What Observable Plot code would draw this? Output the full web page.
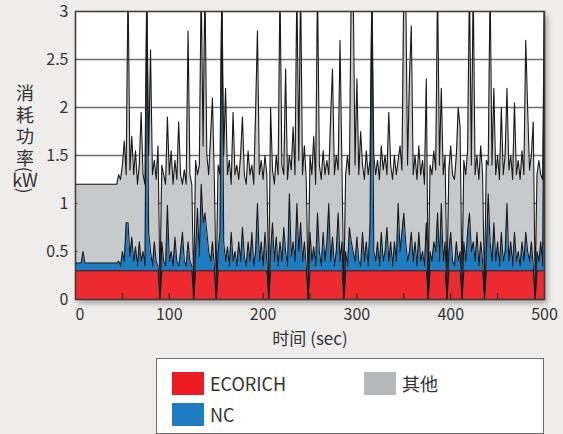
<!DOCTYPE html>
<html>
<head>
<meta charset="utf-8">
<script src="https://cdn.jsdelivr.net/npm/d3@7"></script>
<script src="https://cdn.jsdelivr.net/npm/@observablehq/plot@0.6"></script>
<style>
  html, body { margin: 0; padding: 0; background: #efeeec; }
  body { position: relative; width: 563px; height: 434px; overflow: hidden;
         font-family: "Noto Sans CJK SC", "Noto Sans", sans-serif; color: #333; }
  #panel { position: absolute; left: 75px; top: 11px; width: 469px; height: 288px;
           background: #fff; box-shadow: 3px 4px 6px rgba(0,0,0,0.35); }
  #chart { position: absolute; left: 0; top: 0; }
  #ylabel { position: absolute; left: 0; top: 0; width: 50px; height: 220px;
            font-size: 18px; color: #333; }
  #ylabel .chars { position: absolute; left: 0; top: 82px; width: 50px; text-align: center; }
  #ylabel .chars div { line-height: 21.5px; }
  #ylabel .paren { position: absolute; left: 16.5px; width: 17px; height: 17px;
                   line-height: 17px; font-size: 17px; text-align: center; transform: rotate(90deg); }
  #ylabel .unit { position: absolute; left: 0; width: 50px; height: 18px; line-height: 18px;
                  text-align: center; }
  #legend { position: absolute; left: 156px; top: 358px; width: 386px; height: 74px;
            background: #fff; border: 1px solid #6e6e6e; }
  .item { position: absolute; display: flex; align-items: center; font-size: 18px; color: #333; }
  .sw { width: 32px; height: 23px; margin-right: 6px; }
</style>
</head>
<body>
<div id="panel"></div>
<div id="chart"></div>
<div id="ylabel">
  <div class="chars"><div>消</div><div>耗</div><div>功</div><div>率</div></div>
  <div class="paren" style="top:161px">(</div>
  <div class="unit" style="top:170px">kW</div>
  <div class="paren" style="top:182px">)</div>
</div>
<div id="legend"></div>
<script>
// Power draw sampled every 2 seconds, 0–500 sec (kW per component)
const times = d3.range(0, 501, 2);
const seriesNames = ["ECORICH", "NC", "其他"];
const seriesColors = ["#ec2a30", "#1d7cc2", "#c8c9cb"];
const legendColors = ["#ed1c24", "#1d7cc2", "#b7b8ba"];
const yTicks = [0, 0.5, 1, 1.5, 2, 2.5, 3];
const xTicks = [0, 100, 200, 300, 400, 500];
const xMinorTicks = [50, 100, 150, 200, 250, 300, 350, 400, 450];

const ecorich = [
  .3,.3,.3,.3,.3,.3,.3,.3,.3,.3,
  .3,.3,.3,.3,.3,.3,.3,.3,.3,.3,
  .3,.3,.3,.3,.3,.3,.3,.3,.3,.3,
  .3,.3,.3,.3,.3,.3,.3,.3,.3,.3,
  .3,.3,.3,.3,.3,0,.3,.3,.3,.3,
  .3,.3,.3,.3,.3,.3,.3,.3,.3,.3,
  .3,.3,.3,0,.3,.3,.3,.3,.3,.3,
  .3,.3,.3,.3,.3,0,.3,.3,.3,.3,
  .3,.3,.3,.3,.3,.3,.3,.3,.3,.3,
  .3,.3,.3,.3,.3,.3,.3,.3,.3,.3,
  .3,.3,.3,0,.3,.3,.3,.3,.3,.3,
  .3,.3,.3,.3,.3,.3,.3,.3,.3,.3,
  .3,.3,.3,.3,0,.3,.3,.3,.3,.3,
  .3,.3,.3,.3,.3,.3,.3,.3,.3,.3,
  .3,.3,.3,0,.3,.3,.3,.3,.3,.3,
  .3,.3,.3,.3,.3,.3,.3,.3,.3,.3,
  .3,.3,.3,.3,.3,.3,.3,.3,.3,.3,
  .3,.3,.3,.3,.3,.3,.3,.3,.3,.3,
  .3,.3,.3,.3,.3,.3,.3,.3,0,.3,
  .3,.3,.3,.3,.3,.3,.3,.3,0,.3,
  .3,.3,.3,.3,.3,.3,0,.3,.3,.3,
  .3,.3,.3,.3,.3,.3,.3,.3,0,.3,
  .3,.3,.3,.3,.3,.3,.3,.3,.3,.3,
  .3,.3,.3,.3,.3,.3,.3,.3,.3,.3,
  .3,.3,.3,.3,.3,0,.3,.3,.3,.3,
  .3
];

const nc = [
  .08,.08,.08,.08,.2,.08,.08,.08,.08,.08,
  .08,.08,.08,.08,.08,.08,.08,.08,.08,.08,
  .08,.08,.08,.1,.05,.2,.1,.5,.5,.15,
  .35,.1,.25,.05,.3,.1,.2,.05,2.9,.4,
  .2,.05,.3,.1,.05,0,.3,.1,.05,.68,
  .1,.2,.05,.35,.1,.05,.2,.4,.1,.05,
  .3,.1,.05,0,.2,.65,.15,.9,.5,.6,
  .4,.2,.1,.3,.05,0,.2,.4,3.0,.3,
  .1,.25,.05,.4,.1,.2,.05,.3,.1,.45,
  .15,.05,.3,.1,.4,.05,.2,.7,.1,.3,
  .05,.4,.1,0,.2,.5,.1,.35,.05,.3,
  .1,.45,.2,.05,.8,.15,.3,.1,.7,.2,
  .5,.1,.3,.05,0,.4,.1,.25,.05,.6,
  .2,.05,.4,.1,.3,.7,.1,.35,.05,.2,
  .6,.1,.3,0,.2,.05,.45,.3,.2,.1,
  .35,.1,.05,.4,.1,.3,.05,.5,3.0,.2,
  .1,.3,.05,.4,.1,.2,.45,.1,.3,.05,
  .3,.1,.7,.2,.4,.6,.3,.1,.2,.4,
  .1,.3,.05,.4,.1,.2,.05,.5,0,.2,
  .1,.3,.2,.6,.1,.7,.1,.3,0,.2,
  .4,.1,.05,.3,.1,.2,0,.3,.1,.4,
  .6,.2,.3,.1,.4,.05,.3,.1,0,.2,
  .8,.3,.1,.5,.1,.3,.05,.4,.1,.2,
  .7,.1,.3,.05,.4,.1,.2,.05,.3,.1,
  .4,.2,.1,.3,.05,0,.2,.1,.3,.05,
  3.0
];

const other = [
  .82,.82,.82,.82,.7,.82,.82,.82,.82,.82,
  .82,.82,.82,.82,.82,.82,.82,.82,.82,.82,
  .82,.82,.82,.9,.9,.9,1.25,.5,2.5,.9,
  1.05,.9,1.0,.85,.8,1.55,.8,.85,.1,.8,
  2.1,.95,.85,.85,1.25,.12,.8,.9,.85,.92,
  .9,1.05,.85,.8,.85,1.5,.8,.5,.95,.85,
  2.2,.9,.85,.12,.95,.35,.95,2.1,.8,2.4,
  .8,.8,1.3,1.5,.9,.12,.9,.6,0,.9,
  1.8,.75,1.1,.5,1.55,.8,1.05,.65,1.1,1.15,
  .85,.85,.95,.9,.7,.85,1.45,1.8,.9,.85,
  .9,.8,.9,.12,1.5,.55,.8,.85,.95,2.7,
  1.0,.55,1.9,.9,.4,.9,1.2,.9,2.3,.95,
  2.5,.9,1.0,.9,.12,.8,.9,1.15,.85,2.4,
  .9,.9,.85,.9,.85,.3,1.5,1.75,.95,1.0,
  .45,2.3,.8,.12,.8,1.15,.55,2.7,2.8,1.0,
  1.65,.9,1.4,.7,.85,.95,.95,.65,0,1.0,
  .9,.85,.9,.9,.95,1.0,.55,1.55,.8,.9,
  .9,.9,.45,1.1,.65,2.4,2.7,1.0,1.8,2.15,
  .9,.9,.9,.9,.9,.95,.85,1.5,.12,.9,
  .9,.95,.85,2.4,1.0,1.2,.9,.9,.12,.85,
  .9,.9,.9,.9,1.6,1.3,.12,.85,.9,.85,
  2.4,.9,2.7,.9,.8,.9,1.0,.9,.12,.95,
  .3,2.7,1.0,1.4,.9,.9,.9,1.3,.9,1.0,
  1.2,.95,.9,.9,1.35,.9,.95,.9,.95,.9,
  2.0,1.5,.95,.9,1.5,.12,.8,1.05,.7,.9,
  0
];

// Long-format table, bottom layer first so the stack order is ECORICH, NC, 其他
const values = [ecorich, nc, other];
const data = seriesNames.flatMap((name, k) =>
  values[k].map((v, i) => ({time: times[i], series: name, value: v})));

const chart = Plot.plot({
  width: 563,
  height: 350,
  marginLeft: 75,
  marginRight: 19,
  marginTop: 11,
  marginBottom: 51,
  style: {background: "transparent", fontFamily: "'Noto Sans CJK SC', sans-serif", fontSize: "16px", color: "#333"},
  x: {domain: [0, 500]},
  y: {domain: [0, 3]},
  color: {domain: seriesNames, range: seriesColors},
  marks: [
    Plot.ruleY(yTicks.filter(d => d > 0 && d < 3), {stroke: "#707070", strokeWidth: 1.6}),
    Plot.areaY(data, {x: "time", y: "value", z: "series", fill: "series", clip: true}),
    Plot.lineY(data, Plot.stackY2({x: "time", y: "value", z: "series", stroke: "#1a1a1a", strokeWidth: 1.1, clip: true})),
    Plot.axisX(xMinorTicks, {tickSize: -6, tickFormat: () => "", label: null, stroke: "#222"}),
    Plot.axisY(yTicks.filter(d => d > 0 && d < 3), {tickSize: -3, tickFormat: () => "", label: null, stroke: "#555"}),
    Plot.axisX([0], {tickSize: 0, tickPadding: 9, textAnchor: "start", label: null, fontSize: 16, tickFormat: d => String(d)}),
    Plot.axisX(xTicks.slice(1), {tickSize: 0, tickPadding: 9, label: null, fontSize: 16, tickFormat: d => String(d)}),
    Plot.axisY(yTicks, {tickSize: 0, tickPadding: 7, label: null, fontSize: 16, tickFormat: d => String(d)}),
    Plot.text(["时间 (sec)"], {frameAnchor: "bottom", dy: 45, fontSize: 17, fill: "#333"}),
    Plot.frame({stroke: "#3a3a3a", strokeWidth: 1.5})
  ]
});
document.getElementById("chart").append(chart);

// Legend: two columns, ECORICH / NC on the left, 其他 on the right
const legendPos = [[15, 11], [15, 42], [207, 11]];
const legend = d3.select("#legend");
seriesNames.forEach((name, k) => {
  const item = legend.append("div").attr("class", "item")
    .style("left", legendPos[k][0] + "px").style("top", legendPos[k][1] + "px");
  item.append("div").attr("class", "sw").style("background", legendColors[k]);
  item.append("span").text(name);
});
</script>
</body>
</html>
